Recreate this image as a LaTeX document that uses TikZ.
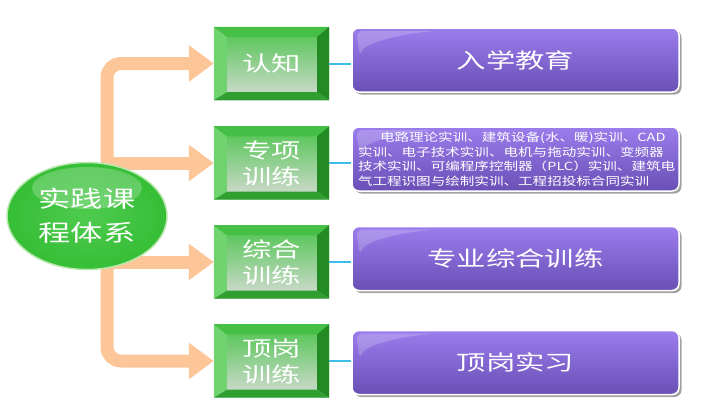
\documentclass[tikz,border=0pt]{standalone}
\usepackage{fontspec}
\usetikzlibrary{shapes.geometric,arrows.meta,shadows}
\newfontfamily\cjk[FakeStretch=1.4]{Noto Sans CJK SC}
\newfontfamily\cjksmall[FakeStretch=1.3]{Noto Sans CJK SC}
\definecolor{peach}{HTML}{FCC699}
\definecolor{hubgreen}{HTML}{36BE36}
\definecolor{hublight}{HTML}{4ECB4E}
\definecolor{hubrim}{HTML}{B4E8AC}
\definecolor{facetop}{HTML}{4CC44C}
\definecolor{facebot}{HTML}{D6DBD6}
\definecolor{gleft}{HTML}{6FD46F}
\definecolor{gtop}{HTML}{45BF45}
\definecolor{gright}{HTML}{238B23}
\definecolor{gbot}{HTML}{2FA02F}
\definecolor{itemtop}{HTML}{9B7DEC}
\definecolor{itembot}{HTML}{6A4FB6}
\definecolor{linkcyan}{HTML}{3BBFE8}
\tikzstyle{hub} = [ellipse,minimum width=160bp,minimum height=107bp,inner sep=0,draw=hubrim,line width=1.5bp,inner color=hublight,outer color=hubgreen,text=white,align=center,font=\cjk\fontsize{23bp}{34bp}\selectfont,
  path picture={\fill[white,opacity=.22] ([yshift=28bp]path picture bounding box.center) ellipse [x radius=55bp,y radius=21bp];}]
\tikzstyle{bevel} = [rectangle,minimum width=115bp,minimum height=73bp,inner sep=0,top color=facetop,bottom color=facebot,text=white,align=center,font=\cjk\fontsize{21bp}{26bp}\selectfont]
\tikzstyle{item} = [rectangle,rounded corners=7bp,minimum width=327bp,minimum height=64bp,draw=white,line width=1.5bp,top color=itemtop,bottom color=itembot,
  drop shadow={shadow xshift=2.5bp,shadow yshift=-2.5bp,fill=black!45,opacity=.8},text=white,font=\cjk\fontsize{21bp}{26bp}\selectfont,
  path picture={\fill[white,opacity=.2] ([shift={(4bp,-3bp)}]path picture bounding box.north west) -- ++(80bp,0) .. controls +(-45bp,-4bp) and +(4bp,12bp) .. ++(-76bp,-26bp) -- cycle;}]
\tikzstyle{link} = [-,line width=2bp,linkcyan]
\tikzstyle{feed} = [line width=13bp,peach,rounded corners=14bp,-{Triangle[length=25bp,width=35bp]}]
\def \bl {13}
\def \br {12}
\def \bt {10}
\def \bb {8}

\begin{document}
\begin{tikzpicture}[x=1bp,y=-1bp]
  \useasboundingbox (0,0) rectangle (716,410);
  % green bevel boxes
  \foreach \nm/\yy/\tx in {k1/63.5/认知,k2/163/{专项\\训练},k3/262/{综合\\训练},k4/361/{顶岗\\训练}}{
    \node[bevel] (\nm) at (271.5,\yy) {\tx};
    \fill[gleft] (\nm.north west) -- ([shift={(\bl,\bt)}]\nm.north west) -- ([shift={(\bl,-\bb)}]\nm.south west) -- (\nm.south west) -- cycle;
    \fill[gtop] (\nm.north west) -- (\nm.north east) -- ([shift={(-\br,\bt)}]\nm.north east) -- ([shift={(\bl,\bt)}]\nm.north west) -- cycle;
    \fill[gright] (\nm.north east) -- (\nm.south east) -- ([shift={(-\br,-\bb)}]\nm.south east) -- ([shift={(-\br,\bt)}]\nm.north east) -- cycle;
    \fill[gbot] (\nm.south west) -- (\nm.south east) -- ([shift={(-\br,-\bb)}]\nm.south east) -- ([shift={(\bl,-\bb)}]\nm.south west) -- cycle;
  }
  % purple boxes
  \foreach \nm/\yy/\tx in {p1/60/入学教育,p3/258.5/专业综合训练,p4/362.5/顶岗实习}
    \node[item] (\nm) at (515.5,\yy) {\tx};
  \node[item,font=\cjksmall\fontsize{11.2bp}{14.5bp}\selectfont,text width=315bp,align=left,inner xsep=6bp] (p2) at (515.5,159)
    {\hspace*{22bp}电路理论实训、建筑设备(水、暖)实训、CAD\\实训、电子技术实训、电机与拖动实训、变频器\\技术实训、可编程序控制器（PLC）实训、建筑电\\气工程识图与绘制实训、工程招投标合同实训};
  \foreach \i in {1,...,4}
    \draw[link] (k\i.east) -- (k\i.east -| p\i.west);
  % arrows from the hub
  \coordinate (trunk) at (107,216);
  \draw[feed] (trunk) |- (k1.west);
  \draw[feed] (trunk |- k2.west) -- (k2.west);
  \draw[feed] (trunk |- k3.west) -- (k3.west);
  \draw[feed] (trunk) |- (k4.west);
  \node[hub] (sys) at (87,216) {实践课\\程体系};
\end{tikzpicture}
\end{document}
